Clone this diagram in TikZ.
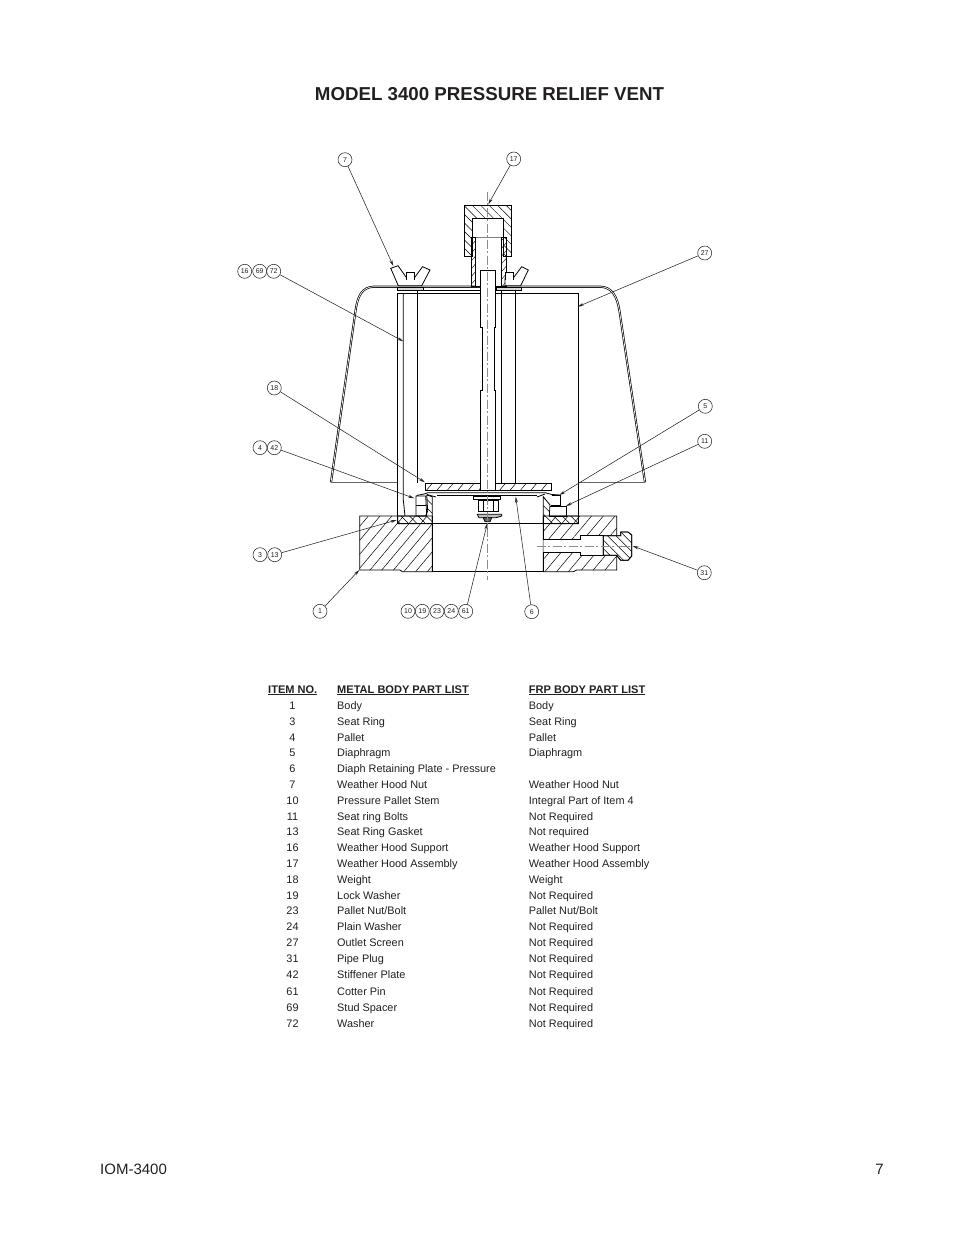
\documentclass[tikz,border=0pt]{standalone}
\usepackage{fontspec}
\setmainfont{Liberation Sans}
\usetikzlibrary{arrows.meta,patterns.meta}
\definecolor{ink}{HTML}{231F20}

\begin{document}
\begin{tikzpicture}[x=1pt, y=-1pt, >={Stealth[length=6pt,width=3pt]}, text=ink,
                    balloon/.style={circle,draw=black!85,line width=.55pt,minimum size=14pt,inner sep=0pt,font=\fontsize{7}{7}\selectfont},
                    leader/.style={->,draw=black!85,line width=.55pt},
                    part/.style={draw=black,line width=.8pt},
                    heavy/.style={draw=black,line width=1.5pt},
                    hatch/.style={draw=black,line width=.8pt,pattern={Lines[angle=50,distance=9pt,line width=.5pt]}},
                    hatchb/.style={draw=black,line width=.8pt,pattern={Lines[angle=-45,distance=6pt,line width=.5pt]}},
                    center line/.style={draw=black!45,line width=.8pt,dash pattern=on 9pt off 2.5pt on 2pt off 2.5pt},
                    item/.style={anchor=base,yshift=-4pt,inner sep=0pt,font=\fontsize{10.9}{11}\selectfont},
                    entry/.style={anchor=base west,yshift=-4pt,inner sep=0pt,font=\fontsize{10.9}{11}\selectfont},
                    head/.style={anchor=base west,yshift=-4pt,inner sep=0pt,font=\fontsize{11.05}{11}\selectfont\bfseries}]

  \useasboundingbox (0,0) rectangle (954,1235);

  \node[font=\fontsize{18.7}{18.7}\selectfont\bfseries] (title) at (489.5,94) {MODEL 3400 PRESSURE RELIEF VENT};

  % hood
  \draw[draw=black,line width=.7pt,double=white,double distance=.7pt]
    (331,482.3) -- (355.5,311) .. controls (357.5,296) and (362,287) .. (374,286.7)
    -- (600,286.7) .. controls (612,287) and (617,296) .. (619.5,311) -- (645,482.3);
  \draw[draw=black!60,line width=.9pt] (331,482.3) -- (397,482.3);
  \draw[draw=black!60,line width=.9pt] (578,482.3) -- (645,482.3);

  % body
  \draw[hatch] (359.7,516) -- (432.3,516) -- (432.3,571.7) -- (402.3,571.7) -- (400,570) -- (359.7,570) -- cycle;
  \draw[hatch] (543.3,516) -- (616.7,516) -- (616.7,570) -- (576.7,570) -- (573.3,571.7) -- (543.3,571.7) -- cycle;
  \draw[part,line width=1.1pt] (432.3,571.7) -- (543.3,571.7);
  \draw[part] (432.3,516) -- (432.3,571.7);
  \draw[part] (543.3,516) -- (543.3,571.7);

  % tapped hole and plug
  \draw[part,fill=white] (543.3,539.3) -- (580.7,539.3) -- (580.7,535.7) -- (603.3,535.7) -- (603.3,555.3) -- (580.7,555.3) -- (580.7,552) -- (543.3,552);
  \draw[hatchb,fill=white] (603.3,535.7) -- (620.7,535.7) -- (620.7,532) -- (628,532) -- (631.7,535) -- (631.7,556) -- (628,560.3) -- (620.7,560.3) -- (616.7,555.3) -- (603.3,555.3) -- cycle;
  \draw[hatchb] (603.3,535.7) -- (620.7,535.7) -- (620.7,532) -- (628,532) -- (631.7,535) -- (631.7,556) -- (628,560.3) -- (620.7,560.3) -- (616.7,555.3) -- (603.3,555.3) -- cycle;

  % seat ring
  \draw[hatchb] (416,516) -- (425.7,516) -- (427.7,511) -- (426.7,495) -- (432.3,496.7) -- (432.3,523.7) -- (397.7,523.7) -- (397.7,516) -- cycle;
  \draw[hatchb] (566,516) -- (549.3,516) -- (550,505) -- (543.3,496.7) -- (543.3,523.7) -- (578.3,523.7) -- (578.3,516) -- cycle;
  \draw[part] (416,496) -- (425.7,496) -- (426.7,516) -- (416,516) -- cycle;
  \draw[part] (416,505) -- (426,505);
  \draw[part] (550,506) -- (566,506) -- (566,516) -- (549.3,516);
  \draw[part] (551.7,495) -- (560,495) -- (560,505) -- (551,505);

  % screen and studs
  \draw[heavy] (397.7,293.3) -- (578.3,293.3) -- (578.3,523.7) -- (397.7,523.7) -- cycle;
  \draw[part] (403.3,293.3) -- (403.3,500) -- (405,516);
  \draw[part] (417.3,290) -- (417.3,483.3);
  \draw[part] (501.7,290) -- (501.7,483.3);
  \draw[part] (515.7,290) -- (515.7,483.3);
  \draw[part] (403.3,290) -- (417.3,290);
  \draw[part] (423,290) -- (496.7,290);

  % weather hood assembly
  \draw[hatchb,pattern={Lines[angle=50,distance=5pt,line width=.4pt]}] (471.3,237.7) -- (506,237.7) -- (506,286.7) -- (471.3,286.7) -- cycle;
  \draw[part,fill=white] (475.7,237.7) -- (501.3,237.7) -- (501.3,286.7) -- (475.7,286.7) -- cycle;
  \draw[hatchb] (464.3,205.3) -- (511.7,205.3) -- (511.7,256.3) -- (503.3,256.3) -- (503.3,218.7) -- (472.3,218.7) -- (472.3,256.3) -- (464.3,256.3) -- cycle;
  \draw[part] (472.3,218.7) -- (472.3,237.7);
  \draw[part] (503.3,218.7) -- (503.3,237.7);
  \draw[part,draw=black!50] (475.7,237.7) -- (501.3,237.7);

  % wing nuts
  \draw[part,fill=white] (398.3,285.7) -- (390.7,268.3) -- (398,265.7) -- (406.7,278) -- (414.3,278) -- (422.5,266.7) -- (430,270) -- (421.7,285.7) -- cycle;
  \draw[part,fill=white] (406.7,280) -- (406.7,272) -- (414.3,272) -- (414.3,280);
  \draw[part,fill=white] (505,285.7) -- (505,278) -- (513.3,278) -- (521.7,266.7) -- (528.3,270) -- (520.7,285.7) -- cycle;
  \draw[part,fill=white] (505,280) -- (505,272) -- (513.3,272) -- (513.3,280);
  \draw[part,fill=black!15] (397.7,287.7) rectangle (423,290.7);
  \draw[part,fill=black!15] (496.7,287.7) rectangle (521.7,290.7);

  % pallet
  \draw[hatch,pattern={Lines[angle=50,distance=8pt,line width=.5pt]}] (425,483.3) -- (551.7,483.3) -- (551.7,490.7) -- (425,490.7) -- cycle;
  \draw[part] (416.7,495.5) -- (424,494) -- (428,492.7) -- (545,492.7) -- (552,494.5) -- (560,495);
  \draw[draw=black,line width=1.6pt] (436.7,495.3) -- (536.7,495.3);
  \draw[part] (427,494.5) -- (436,497);
  \draw[part] (545,494) -- (537,497);

  % stem and fasteners
  \draw[part,fill=white] (480.7,270) -- (495.7,270) -- (495.7,327.3) -- (494.3,327.3) -- (494.3,390) -- (495.7,390) -- (495.7,490) -- (480.7,490) -- (480.7,390) -- (482.3,390) -- (482.3,327.3) -- (480.7,327.3) -- cycle;
  \draw[draw=black,line width=1.6pt] (481,270.3) -- (495.4,270.3);
  \draw[part,fill=white] (473.3,496.7) rectangle (500,499.3);
  \draw[part,fill=white] (478.3,500) rectangle (498.3,511.7);
  \draw[part] (483.5,500) -- (483.5,511.7);
  \draw[part] (493,500) -- (493,511.7);
  \draw[part,fill=black!25] (477.3,514.3) -- (501.7,514.3) -- (501.7,516) -- (496,517.7) -- (479,517.7) -- cycle;
  \draw[part,fill=black!60] (483.3,517.7) -- (491.7,517.7) -- (490,521.7) -- (485,521.7) -- cycle;

  % center lines
  \draw[center line] (487.7,191.7) -- (487.7,580);
  \draw[center line] (536.7,546) -- (631.7,546);

  % balloons
  \node[balloon] (7) at (345,159.7) {7};
  \node[balloon] (17) at (513.7,159) {17};
  \node[balloon] (27) at (704.7,253) {27};
  \node[balloon] (16) at (244.7,271.3) {16};
  \node[balloon] (69) at (259.7,271.3) {69};
  \node[balloon] (72) at (273.7,271.3) {72};
  \node[balloon] (18) at (274.3,388) {18};
  \node[balloon] (4) at (260,447.7) {4};
  \node[balloon] (42) at (274.3,447.7) {42};
  \node[balloon] (3) at (260,554.7) {3};
  \node[balloon] (13) at (274.7,554.7) {13};
  \node[balloon] (1) at (320,611.3) {1};
  \node[balloon] (10) at (408,611.3) {10};
  \node[balloon] (19) at (422.3,611.3) {19};
  \node[balloon] (23) at (437,611.3) {23};
  \node[balloon] (24) at (451.3,611.3) {24};
  \node[balloon] (61) at (465.7,611.3) {61};
  \node[balloon] (6) at (531.7,611.7) {6};
  \node[balloon] (31) at (704.3,572.7) {31};
  \node[balloon] (11) at (704.7,441.3) {11};
  \node[balloon] (5) at (705.3,406.3) {5};

  \coordinate (tip7) at (393.3,266);
  \coordinate (tip17) at (488.3,204.3);
  \coordinate (tip27) at (577.7,306.7);
  \coordinate (tip72) at (403.3,341.3);
  \coordinate (tip18) at (425,482.3);
  \coordinate (tip42) at (414.3,498.3);
  \coordinate (tip13) at (396.7,520);
  \coordinate (tip1) at (359.3,570);
  \coordinate (tip61) at (487.3,523.3);
  \coordinate (tip6) at (515.7,496.7);
  \coordinate (tip31) at (632.7,546);
  \coordinate (tip11) at (566,506);
  \coordinate (tip5) at (559.3,495);

  \path[every edge/.style={leader}]
    (7) edge (tip7)
    (17) edge (tip17)
    (27) edge (tip27)
    (72) edge (tip72)
    (18) edge (tip18)
    (42) edge (tip42)
    (13) edge (tip13)
    (1) edge (tip1)
    (61) edge (tip61)
    (6) edge (tip6)
    (31) edge (tip31)
    (11) edge (tip11)
    (5) edge (tip5);

  % part list
  \node[head] (hitem) at (268,689) {\underline{ITEM NO.}};
  \node[head] (hmetal) at (337,689) {\underline{METAL BODY PART LIST}};
  \node[head] (hfrp) at (528.7,689) {\underline{FRP BODY PART LIST}};

  \node[item] (i1) at (292.5,705) {1}; \node[entry] (m1) at (337,705) {Body}; \node[entry] (f1) at (528.7,705) {Body};
  \node[item] (i3) at (292.5,721) {3}; \node[entry] (m3) at (337,721) {Seat Ring}; \node[entry] (f3) at (528.7,721) {Seat Ring};
  \node[item] (i4) at (292.5,737) {4}; \node[entry] (m4) at (337,737) {Pallet}; \node[entry] (f4) at (528.7,737) {Pallet};
  \node[item] (i5) at (292.5,752.5) {5}; \node[entry] (m5) at (337,752.5) {Diaphragm}; \node[entry] (f5) at (528.7,752.5) {Diaphragm};
  \node[item] (i6) at (292.5,768.5) {6}; \node[entry] (m6) at (337,768.5) {Diaph Retaining Plate - Pressure};
  \node[item] (i7) at (292.5,784.5) {7}; \node[entry] (m7) at (337,784.5) {Weather Hood Nut}; \node[entry] (f7) at (528.7,784.5) {Weather Hood Nut};
  \node[item] (i10) at (292.5,800) {10}; \node[entry] (m10) at (337,800) {Pressure Pallet Stem}; \node[entry] (f10) at (528.7,800) {Integral Part of Item 4};
  \node[item] (i11) at (292.5,816) {11}; \node[entry] (m11) at (337,816) {Seat ring Bolts}; \node[entry] (f11) at (528.7,816) {Not Required};
  \node[item] (i13) at (292.5,831.5) {13}; \node[entry] (m13) at (337,831.5) {Seat Ring Gasket}; \node[entry] (f13) at (528.7,831.5) {Not required};
  \node[item] (i16) at (292.5,847.5) {16}; \node[entry] (m16) at (337,847.5) {Weather Hood Support}; \node[entry] (f16) at (528.7,847.5) {Weather Hood Support};
  \node[item] (i17) at (292.5,863.5) {17}; \node[entry] (m17) at (337,863.5) {Weather Hood Assembly}; \node[entry] (f17) at (528.7,863.5) {Weather Hood Assembly};
  \node[item] (i18) at (292.5,879.5) {18}; \node[entry] (m18) at (337,879.5) {Weight}; \node[entry] (f18) at (528.7,879.5) {Weight};
  \node[item] (i19) at (292.5,895.5) {19}; \node[entry] (m19) at (337,895.5) {Lock Washer}; \node[entry] (f19) at (528.7,895.5) {Not Required};
  \node[item] (i23) at (292.5,910.5) {23}; \node[entry] (m23) at (337,910.5) {Pallet Nut/Bolt}; \node[entry] (f23) at (528.7,910.5) {Pallet Nut/Bolt};
  \node[item] (i24) at (292.5,926.5) {24}; \node[entry] (m24) at (337,926.5) {Plain Washer}; \node[entry] (f24) at (528.7,926.5) {Not Required};
  \node[item] (i27) at (292.5,942.5) {27}; \node[entry] (m27) at (337,942.5) {Outlet Screen}; \node[entry] (f27) at (528.7,942.5) {Not Required};
  \node[item] (i31) at (292.5,958.5) {31}; \node[entry] (m31) at (337,958.5) {Pipe Plug}; \node[entry] (f31) at (528.7,958.5) {Not Required};
  \node[item] (i42) at (292.5,974.5) {42}; \node[entry] (m42) at (337,974.5) {Stiffener Plate}; \node[entry] (f42) at (528.7,974.5) {Not Required};
  \node[item] (i61) at (292.5,991.5) {61}; \node[entry] (m61) at (337,991.5) {Cotter Pin}; \node[entry] (f61) at (528.7,991.5) {Not Required};
  \node[item] (i69) at (292.5,1007.5) {69}; \node[entry] (m69) at (337,1007.5) {Stud Spacer}; \node[entry] (f69) at (528.7,1007.5) {Not Required};
  \node[item] (i72) at (292.5,1023.5) {72}; \node[entry] (m72) at (337,1023.5) {Washer}; \node[entry] (f72) at (528.7,1023.5) {Not Required};

  \node[anchor=west,inner sep=0pt,font=\fontsize{15}{15}\selectfont] (doc) at (100,1169) {IOM-3400};
  \node[anchor=east,inner sep=0pt,font=\fontsize{15}{15}\selectfont] (page) at (884,1169) {7};
\end{tikzpicture}
\end{document}
